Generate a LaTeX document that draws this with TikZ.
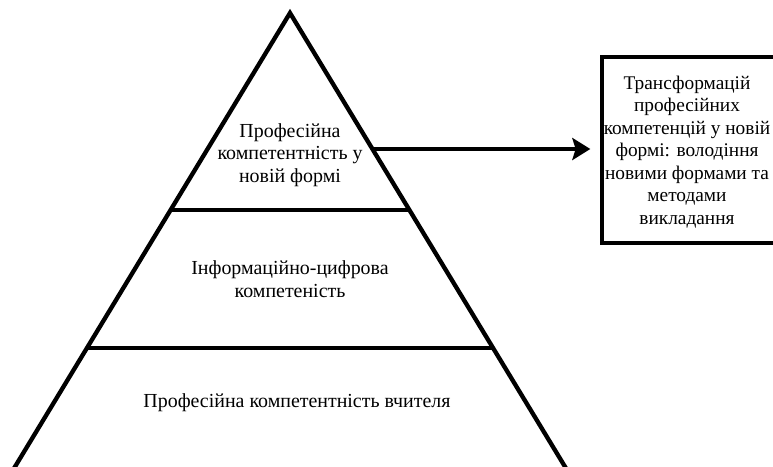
\documentclass[tikz,border=0pt]{standalone}
\usepackage{fontspec}
\setmainfont{Liberation Serif}
\usetikzlibrary{arrows.meta, positioning, calc}

\begin{document}
\begin{tikzpicture}[
    x=0.3mm, y=-0.3mm,
    level/.style={font=\fontsize{17}{19.2}\selectfont, align=center},
    edge/.style={line width=1.3mm},
    box/.style={rectangle, draw, line width=1.2mm, minimum width=55mm, minimum height=55.5mm, align=center, inner xsep=0pt, font=\fontsize{16.5}{19.2}\selectfont},
    arrow/.style={-{Stealth[length=5.4mm, width=6.6mm, inset=1mm]}, line width=1.2mm}
]
    \useasboundingbox (0,0) rectangle (773,467);
    \clip (0,0) rectangle (773,467);

    % Pyramid
    \coordinate (apex) at (290,13);
    \coordinate (bl) at (13,470);
    \coordinate (br) at (567,470);
    \draw[edge, line join=miter] (bl) -- (apex) -- (br);
    \draw[edge] ($(apex)!0.431!(bl)$) -- ($(apex)!0.431!(br)$);
    \draw[edge] ($(apex)!0.733!(bl)$) -- ($(apex)!0.733!(br)$);

    % Labels
    \node[level] (top) at (290,155) {Професійна\\компетентність у\\новій формі};
    \node[level] (mid) at (290,279) {Інформаційно-цифрова\\компетеність};
    \node[level] (base) at (297,403) {Професійна компетентність вчителя};

    \node[box] (trans) at (694,150) {};
    \node[font=\fontsize{16.5}{19.2}\selectfont, align=center] (transtext) at (687,152) {Трансформацій\\професійних\\компетенцій у новій\\формі: володіння\\новими формами та\\методами\\викладання};

    \coordinate (side) at ($(apex)!0.2976!(br)$);
    \draw[arrow, shorten >=3mm] (side) -- (side -| trans.west);
\end{tikzpicture}
\end{document}
